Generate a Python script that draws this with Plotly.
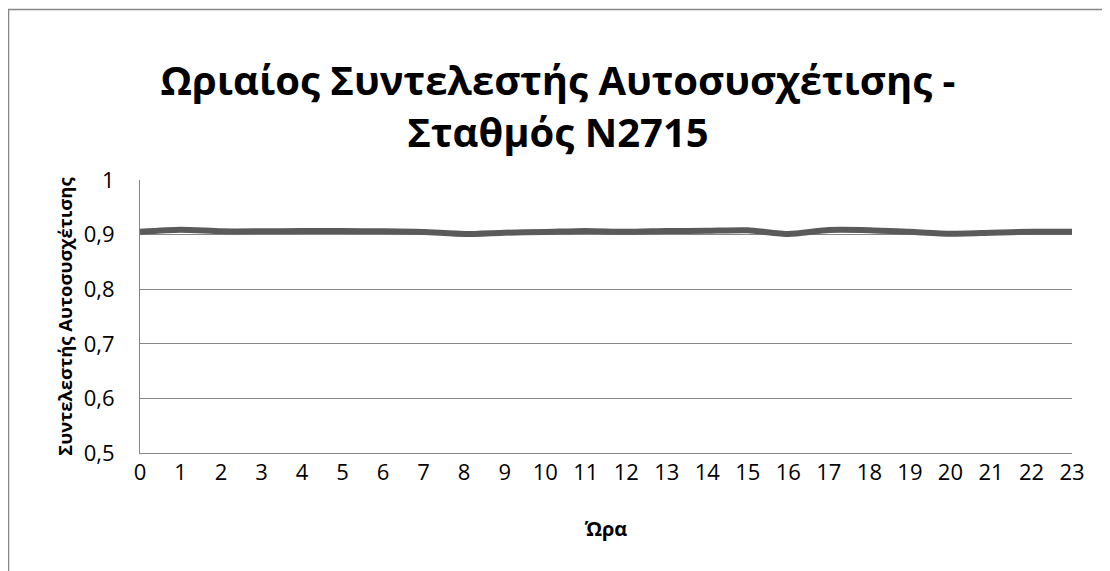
import plotly.graph_objects as go

hours = list(range(24))
autocorr = [0.9053, 0.9090, 0.9060, 0.9060, 0.9066, 0.9066, 0.9060, 0.9048,
            0.9010, 0.9035, 0.9048, 0.9068, 0.9050, 0.9066, 0.9070, 0.9080,
            0.9010, 0.9084, 0.9080, 0.9050, 0.9017, 0.9035, 0.9053, 0.9050]
y_ticks = [0.5, 0.6, 0.7, 0.8, 0.9, 1.0]
y_tick_labels = ["0,5", "0,6", "0,7", "0,8", "0,9", "1"]
x_tick_labels = [str(h) for h in hours]

title_text = "Ωριαίος Συντελεστής Αυτοσυσχέτισης -<br>Σταθμός N2715"
y_title = "Συντελεστής Αυτοσυσχέτισης"
x_title = "Ώρα"

FONT = "Open Sans"
OFF = 8  # default page body margin

fig = go.Figure()
fig.add_trace(go.Scatter(
    x=hours, y=autocorr, mode="lines",
    line=dict(color="#5a5a5a", width=6, shape="spline", smoothing=0.6),
    showlegend=False, hoverinfo="x+y",
))

W, H = 1110 - 2 * OFF, 571 - OFF
# plot area in page pixels: left 140, top 180, right 1072, bottom 453
L = 140 - OFF
T = 180 - OFF
R = W - (1072 - OFF)
B = H - (453 - OFF)
pw, ph = W - L - R, H - T - B

def px_to_paper_x(px):
    return (px - OFF - L) / pw

def py_to_paper_y(py):
    return (H - B - (py - OFF)) / ph

fig.update_layout(
    width=W, height=H,
    margin=dict(l=L, r=R, t=T, b=B),
    paper_bgcolor="white", plot_bgcolor="white",
    font=dict(family=FONT, color="black"),
    title=dict(text=title_text, x=(558 - OFF) / W, xref="container", xanchor="center",
               y=1 - 87 / H, yanchor="middle",
               font=dict(family=FONT, size=40, color="black", weight="bold")),
    xaxis=dict(
        range=[0, 23], tickvals=hours, ticktext=x_tick_labels,
        showgrid=False, zeroline=False, showline=True, linecolor="#868686", linewidth=1,
        ticks="", tickfont=dict(size=22, family=FONT),
        title=dict(text=x_title, font=dict(size=20, family=FONT, weight="bold"), standoff=36),
    ),
    yaxis=dict(
        range=[0.5, 1.0], tickvals=y_ticks, ticktext=y_tick_labels,
        showgrid=True, gridcolor="#868686", gridwidth=1, zeroline=False,
        showline=True, linecolor="#868686", linewidth=1,
        ticks="", tickfont=dict(size=22, family=FONT), ticklabelstandoff=20,
        title=dict(text=y_title, font=dict(size=18.5, family=FONT, weight="bold"), standoff=6),
    ),
    shapes=[dict(
        type="rect", xref="paper", yref="paper",
        x0=px_to_paper_x(8.5), x1=px_to_paper_x(1140),
        y0=py_to_paper_y(620), y1=py_to_paper_y(9.5),
        line=dict(color="#868686", width=1.5), fillcolor="rgba(0,0,0,0)", layer="below",
    )],
)

fig.write_html("out.html")
